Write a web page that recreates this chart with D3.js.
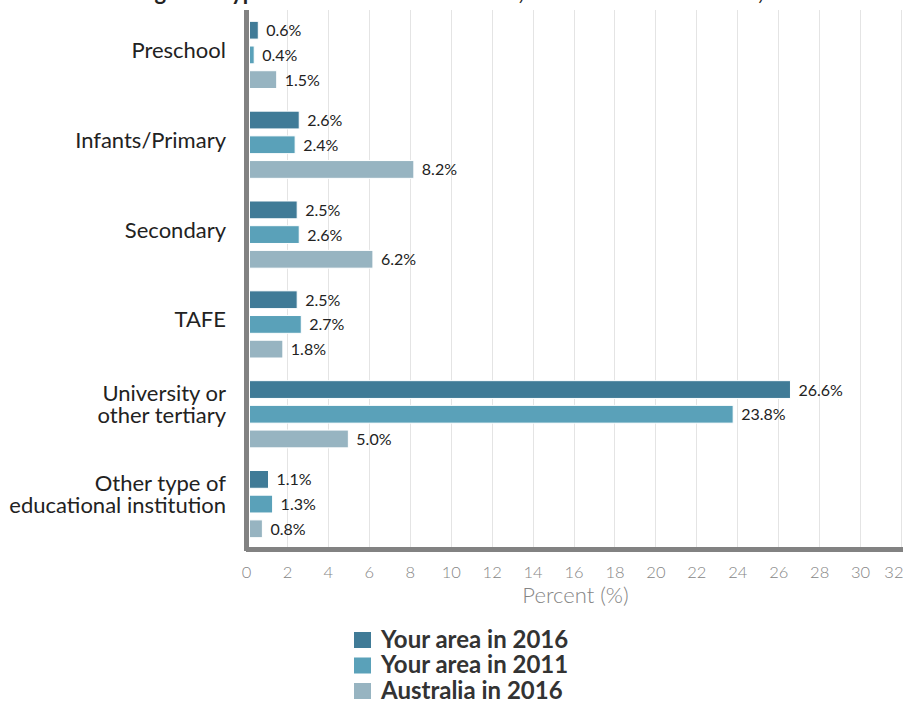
<!DOCTYPE html>
<html>
<head>
<meta charset="utf-8">
<script src="https://cdn.jsdelivr.net/npm/d3@7"></script>
<style>
  html, body { margin: 0; padding: 0; background: #fff; }
  svg { display: block; font-family: Lato, "Open Sans", sans-serif; }
</style>
</head>
<body>
<svg id="chart" width="903" height="702"></svg>
<script>
const titleText = "Attending each type of educational institution, Local Government Area, 2016";
const categories = [
  ["Preschool"],
  ["Infants/Primary"],
  ["Secondary"],
  ["TAFE"],
  ["University or", "other tertiary"],
  ["Other type of", "educational institution"]
];
const seriesNames = ["Your area in 2016", "Your area in 2011", "Australia in 2016"];
const yourArea2016 = [0.6, 2.6, 2.5, 2.5, 26.6, 1.1];
const yourArea2011 = [0.4, 2.4, 2.6, 2.7, 23.8, 1.3];
const australia2016 = [1.5, 8.2, 6.2, 1.8, 5.0, 0.8];
const xTicks = [0, 2, 4, 6, 8, 10, 12, 14, 16, 18, 20, 22, 24, 26, 28, 30, 32];
const axisTitle = "Percent (%)";
const colors = ["#407b97", "#5aa1b9", "#97b4c1"];

const series = [yourArea2016, yourArea2011, australia2016];
const svg = d3.select("#chart");

const plot = { left: 246, right: 901, top: 10, bottom: 549 };

const x = d3.scaleLinear().domain([0, 32]).range([plot.left, plot.right]);
const y = d3.scaleBand().domain(d3.range(categories.length)).range([plot.top, plot.bottom]).paddingInner(0).paddingOuter(0);
const inner = d3.scaleBand().domain(d3.range(series.length)).range([-40.5, 40.5]).padding(0.28);

// title (mostly cropped above the viewport, as in the reference)
svg.append("text")
  .attr("x", 70).attr("y", 0)
  .attr("font-size", 22).attr("font-weight", 700).attr("fill", "#222")
  .text(titleText);

// gridlines
svg.append("g").selectAll("line").data(xTicks.slice(1)).join("line")
  .attr("x1", d => Math.round(x(d)) + 0.5).attr("x2", d => Math.round(x(d)) + 0.5)
  .attr("y1", plot.top).attr("y2", plot.bottom - 2)
  .attr("stroke", "#e4e4e4").attr("stroke-width", 1);

// bars
const groups = svg.append("g").selectAll("g").data(categories).join("g")
  .attr("transform", (d, i) => `translate(0,${y(i) + y.bandwidth() / 2})`);

groups.each(function(cat, ci) {
  const g = d3.select(this);
  series.forEach((s, si) => {
    const v = s[ci];
    g.append("rect")
      .attr("x", x(0) + 3.5).attr("y", inner(si))
      .attr("width", Math.max(0, x(v) - x(0) - 3.5)).attr("height", inner.bandwidth())
      .attr("fill", colors[si]).attr("stroke", "#fff").attr("stroke-width", 1);
    g.append("text")
      .attr("x", x(v) + 8).attr("y", inner(si) + inner.bandwidth() / 2 + 6)
      .attr("font-size", 16).attr("fill", "#222")
      .text(v.toFixed(1) + "%");
  });
  // category label
  const lab = g.append("text").attr("text-anchor", "end").attr("font-size", 22).attr("fill", "#222");
  if (cat.length === 1) {
    lab.append("tspan").attr("x", 226).attr("y", 3).text(cat[0]);
  } else {
    lab.append("tspan").attr("x", 226).attr("y", -13).text(cat[0]);
    lab.append("tspan").attr("x", 226).attr("y", 9).text(cat[1]);
  }
});

// axis lines
svg.append("rect").attr("x", 244).attr("y", plot.top).attr("width", 5).attr("height", plot.bottom - plot.top + 2).attr("fill", "#828282");
svg.append("rect").attr("x", 246).attr("y", 547).attr("width", 903 - 246).attr("height", 5).attr("fill", "#828282");

// x axis labels
const xAxis = d3.axisBottom(x).tickValues(xTicks).tickSize(0).tickPadding(0);
const ax = svg.append("g").attr("transform", "translate(0,578)").call(xAxis);
ax.select(".domain").remove();
ax.selectAll("text")
  .attr("dy", 0).attr("y", 0)
  .attr("font-family", "Lato, sans-serif").attr("font-size", 16.5).attr("font-weight", 300).attr("fill", "#858585")
  .attr("text-anchor", d => d === 32 ? "end" : "middle")
  .attr("dx", d => d === 32 ? 2 : 0);

svg.append("text")
  .attr("x", (plot.left + plot.right) / 2 + 2).attr("y", 603)
  .attr("text-anchor", "middle").attr("font-size", 22).attr("font-weight", 300).attr("fill", "#858585")
  .text(axisTitle);

// legend
const leg = svg.append("g").selectAll("g").data(seriesNames).join("g")
  .attr("transform", (d, i) => `translate(354,${632 + i * 25.5})`);
leg.append("rect").attr("width", 17).attr("height", 16).attr("fill", (d, i) => colors[i]);
leg.append("text").attr("x", 27).attr("y", 15.5)
  .attr("font-size", 24).attr("font-weight", 700).attr("fill", "#333")
  .text(d => d);
</script>
</body>
</html>
